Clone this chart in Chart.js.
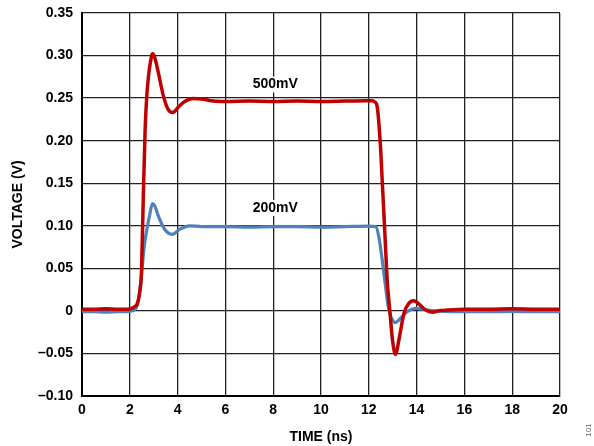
<!DOCTYPE html>
<html>
<head>
<meta charset="utf-8">
<script src="https://cdn.jsdelivr.net/npm/chart.js@4"></script>
<style>
  body { margin: 0; background: #fff; }
</style>
</head>
<body>
<canvas id="pulse-chart" width="594" height="446"></canvas>
<script>
// 500mV trace (red)
var timeRed = [0, 0.5, 1.0, 1.5, 1.9, 2.08, 2.2, 2.29, 2.36, 2.43, 2.48, 2.52, 2.57, 2.64, 2.71, 2.78, 2.85, 2.95, 3.05, 3.2, 3.41, 3.6, 3.8, 4.05, 4.3, 4.65, 5.0, 5.5, 6, 7, 8, 9, 10, 11, 11.8, 12.15, 12.25, 12.35, 12.49, 12.56, 12.63, 12.70, 12.77, 12.89, 12.99, 13.12, 13.26, 13.47, 13.68, 13.89, 14.1, 14.38, 14.66, 15.0, 15.3, 16, 17, 18, 19, 20];
var voltRed = [0.002, 0.002, 0.0025, 0.002, 0.002, 0.003, 0.005, 0.007, 0.013, 0.025, 0.04, 0.08, 0.14, 0.212, 0.252, 0.275, 0.29, 0.302, 0.297, 0.279, 0.252, 0.237, 0.233, 0.240, 0.246, 0.2495, 0.249, 0.2465, 0.246, 0.2465, 0.246, 0.2465, 0.246, 0.2465, 0.247, 0.247, 0.2455, 0.240, 0.193, 0.154, 0.115, 0.075, 0.036, -0.003, -0.034, -0.051, -0.034, -0.003, 0.009, 0.012, 0.008, 0.001, -0.0015, 0.0005, 0.001, 0.002, 0.002, 0.0025, 0.002, 0.002];

// 200mV trace (blue)
var timeBlue = [0, 0.5, 1.0, 1.5, 2.0, 2.2, 2.3, 2.4, 2.5, 2.6, 2.71, 2.82, 2.95, 3.05, 3.2, 3.48, 3.77, 4.1, 4.5, 5, 6, 7, 8, 9, 10, 11, 12, 12.29, 12.42, 12.56, 12.7, 12.84, 12.99, 13.12, 13.33, 13.61, 13.96, 14.45, 15, 16, 17, 18, 19, 20];
var voltBlue = [-0.001, -0.001, -0.0015, -0.001, -0.0005, 0.001, 0.006, 0.02, 0.045, 0.075, 0.095, 0.111, 0.126, 0.123, 0.111, 0.095, 0.090, 0.096, 0.100, 0.099, 0.099, 0.0985, 0.099, 0.099, 0.0985, 0.099, 0.0995, 0.099, 0.087, 0.060, 0.0285, 0.001, -0.0106, -0.0137, -0.0086, -0.001, 0.003, 0.001, -0.0004, -0.001, -0.001, -0.0005, -0.001, -0.001];

var yTickValues = [0.35, 0.30, 0.25, 0.20, 0.15, 0.10, 0.05, 0, -0.05, -0.10];
var yTickLabels = ['0.35', '0.30', '0.25', '0.20', '0.15', '0.10', '0.05', '0', '\u20130.05', '\u20130.10'];

var traceLabels = ['500mV', '200mV'];
var traceLabelX = [8, 8];
var traceLabelY = [0.266, 0.121];

var FONT = '"Liberation Sans", Arial, sans-serif';

function toPoints(xs, ys) {
    return xs.map(function (x, i) {
        return { x: x, y: ys[i] };
    });
}

var annotatePlugin = {
    id: 'annotate',
    afterDatasetsDraw: function (chart) {
        var ctx = chart.ctx;
        var xs = chart.scales.x, ys = chart.scales.y;
        ctx.save();
        ctx.font = 'bold 14px ' + FONT;
        ctx.textAlign = 'center';
        ctx.textBaseline = 'middle';
        traceLabels.forEach(function (txt, i) {
            var px = xs.getPixelForValue(traceLabelX[i]) + 2;
            var py = ys.getPixelForValue(traceLabelY[i]);
            var w = ctx.measureText(txt).width;
            ctx.fillStyle = '#fff';
            ctx.fillRect(px - w / 2 - 1, py - 8, w + 2, 16);
            ctx.fillStyle = '#000';
            ctx.fillText(txt, px, py);
        });
        // figure number at the right edge
        ctx.translate(589, 430);
        ctx.rotate(-Math.PI / 2);
        ctx.font = '8px ' + FONT;
        ctx.fillStyle = '#666';
        ctx.fillText('101', 0, 0);
        ctx.restore();
    }
};

var chart = new Chart(document.getElementById('pulse-chart'), {
    type: 'line',
    data: {
        datasets: [{
            label: '500mV',
            data: toPoints(timeRed, voltRed),
            borderColor: '#C00000',
            borderWidth: 3.5,
            pointRadius: 0,
            cubicInterpolationMode: 'monotone'
        }, {
            label: '200mV',
            data: toPoints(timeBlue, voltBlue),
            borderColor: '#4F81BD',
            borderWidth: 3.2,
            pointRadius: 0,
            cubicInterpolationMode: 'monotone'
        }]
    },
    options: {
        responsive: false,
        animation: false,
        layout: { padding: { top: 13, right: 34, left: 0, bottom: 0 } },
        plugins: {
            legend: { display: false },
            tooltip: { enabled: false }
        },
        scales: {
            x: {
                type: 'linear',
                min: 0,
                max: 20,
                afterFit: function (axis) { axis.height = 50; },
                ticks: {
                    stepSize: 2,
                    padding: 6,
                    color: '#000',
                    maxRotation: 0,
                    font: { family: FONT, size: 14, weight: 'bold' }
                },
                grid: { color: '#222', lineWidth: 1.3, drawTicks: false },
                border: { color: '#000', width: 2 },
                title: {
                    display: true,
                    text: 'TIME (ns)',
                    color: '#000',
                    padding: { top: 2, bottom: 0 },
                    font: { family: FONT, size: 14, weight: 'bold' }
                }
            },
            y: {
                min: -0.10,
                max: 0.35,
                afterFit: function (axis) { axis.width = 82; },
                afterBuildTicks: function (axis) {
                    axis.ticks = yTickValues.slice().reverse().map(function (v) { return { value: v }; });
                },
                ticks: {
                    padding: 9,
                    color: '#000',
                    font: { family: FONT, size: 14, weight: 'bold', lineHeight: 0.4 },
                    callback: function (value) {
                        var idx = yTickValues.findIndex(function (v) { return Math.abs(v - value) < 1e-6; });
                        return idx >= 0 ? yTickLabels[idx] : '';
                    }
                },
                grid: { color: '#222', lineWidth: 1.3, drawTicks: false },
                border: { color: '#000', width: 2 },
                title: {
                    display: true,
                    text: 'VOLTAGE (V)',
                    color: '#000',
                    padding: { top: 10, bottom: 0 },
                    font: { family: FONT, size: 14, weight: 'bold' }
                }
            }
        }
    },
    plugins: [annotatePlugin]
});
</script>
</body>
</html>
